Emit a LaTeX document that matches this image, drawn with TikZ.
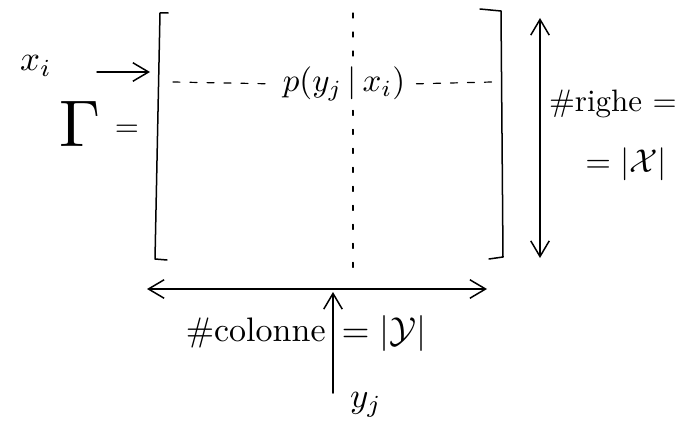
\documentclass[tikz,border=0pt]{standalone}
\usepackage{amsmath,amssymb}
\usepackage{tikz}
\usetikzlibrary{arrows.meta, positioning}

\begin{document}
\begin{tikzpicture}[
  x=1pt, y=-1pt,
  ink/.style={
    draw=black,
    line width=1.5pt,
    line cap=round,
    line join=round
  },
  flow/.style={
    ink,
    -{Straight Barb[length=5.5mm, width=6.5mm]}
  },
  span/.style={
    ink,
    {Straight Barb[length=5.5mm, width=6.5mm]}-{Straight Barb[length=5.5mm, width=6.5mm]}
  },
  rowdash/.style={
    ink, line width=1.2pt,
    dash pattern=on 7pt off 10pt
  },
  coldash/.style={
    ink, line width=1.2pt,
    dash pattern=on 5pt off 14pt
  },
  note/.style={
    inner sep=0.8pt,
    align=center,
    scale=#1,
    transform shape
  },
  note/.default=3.1
]

\useasboundingbox (0,0) rectangle (680,436);

% --- Matrix Gamma ----------------------------------------------------

\node[note=6.6] (gamma) at (80,124) {$\Gamma$};
\node[note] (eq) at (127,131) {$=$};

\draw[ink] (168,13) -- (160,13) -- (155,259) -- (167,260);
\draw[ink] (480,9) -- (501,11) -- (503,257) -- (489,259);

% --- Generic entry ---------------------------------------------------

\node[note=3.3] (entry) at (344,84) {$p(y_j\,|\,x_i)$};

\coordinate (rowleft)  at (173,82);
\coordinate (rowright) at (492,82);
\coordinate (coltop)   at (353,13);
\coordinate (colbot)   at (353,270);

\draw[rowdash, shorten >=8pt] (rowleft) -- (entry.west);
\draw[rowdash, shorten <=8pt] (entry.east) -- (rowright);
\draw[coldash, shorten >=4pt] (coltop) -- (entry.north -| coltop);
\draw[coldash, shorten <=6pt] (entry.south -| coltop) -- (colbot);

% --- Row input -------------------------------------------------------

\node[note=3.5] (xi) at (36,66) {$x_i$};

\coordinate (rowstart) at (97,72);
\coordinate (rowin)    at (150,72);
\draw[flow] (rowstart) -- (rowin);

% --- Number of rows --------------------------------------------------

\coordinate (rtop) at (540,18);
\coordinate (rbot) at (540,258);
\draw[span] (rtop) -- (rbot);

\node[note, anchor=west] (rows) at (546,104) {\#righe $=$};
\node[note=3.3, anchor=west] (rowsize) at (582,164) {$= |\mathcal{X}|$};

% --- Number of columns -----------------------------------------------

\coordinate (cleft)  at (147,289);
\coordinate (cright) at (487,289);
\draw[span] (cleft) -- (cright);

\node[note=3.4, anchor=east] (cols) at (329,333) {\#colonne};
\node[note=3.6, anchor=west] (colsize) at (338,333) {$= |\mathcal{Y}|$};

% --- Column input ----------------------------------------------------

\node[note=3.5] (yj) at (366,405) {$y_j$};

\coordinate (colstart) at (333,393);
\coordinate (colin)    at (333,292);
\draw[flow] (colstart) -- (colin);

\end{tikzpicture}
\end{document}
